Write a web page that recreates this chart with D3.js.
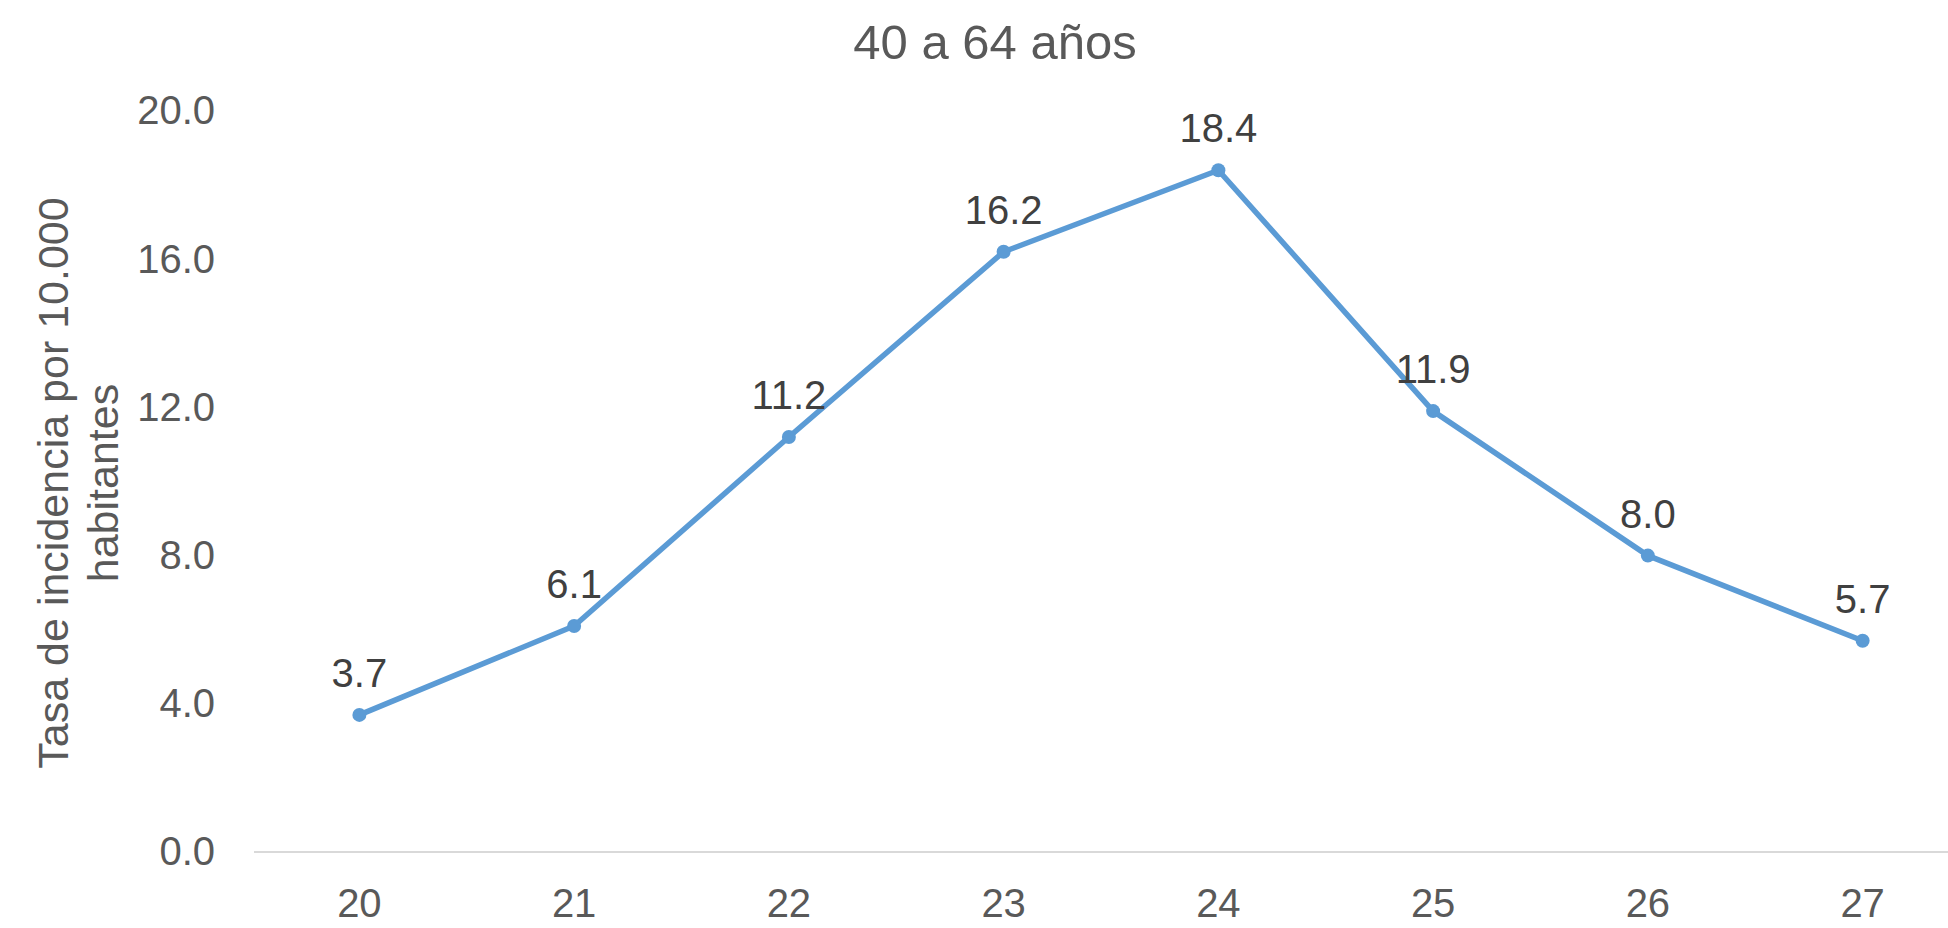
<!DOCTYPE html>
<html>
<head>
<meta charset="utf-8">
<script src="https://cdn.jsdelivr.net/npm/d3@7"></script>
<style>
  html, body { margin: 0; padding: 0; background: #fff; }
  svg { display: block; }
  text { font-family: "Liberation Sans", Arial, sans-serif; }
</style>
</head>
<body>
<svg id="chart" width="1948" height="928"></svg>
<script>
const categories = ["20", "21", "22", "23", "24", "25", "26", "27"];
const values = [3.7, 6.1, 11.2, 16.2, 18.4, 11.9, 8.0, 5.7];
const yTicks = [0, 4, 8, 12, 16, 20];
const chartTitle = "40 a 64 años";
const yTitleLines = ["Tasa de incidencia por 10.000", "habitantes"];

const svg = d3.select("#chart");
const W = 1948, H = 928;
const plot = { left: 252, right: 1970, top: 111, bottom: 852 };

const x = d3.scaleBand().domain(categories).range([plot.left, plot.right]).padding(0);
const y = d3.scaleLinear().domain([0, 20]).range([plot.bottom, plot.top]);
const cx = d => x(d) + x.bandwidth() / 2;

// Title
svg.append("text")
  .attr("x", 995).attr("y", 59)
  .attr("text-anchor", "middle")
  .attr("font-size", 49)
  .attr("fill", "#595959")
  .text(chartTitle);

// Y axis (labels only)
const yAxis = d3.axisLeft(y).tickValues(yTicks).tickFormat(d3.format(".1f")).tickSize(0).tickPadding(0);
const yg = svg.append("g").attr("transform", `translate(215,0)`).call(yAxis);
yg.select(".domain").remove();
yg.selectAll("text").attr("font-size", 40).attr("fill", "#595959")
  .attr("font-family", "'Liberation Sans', Arial, sans-serif");

// X axis baseline + labels
const xAxis = d3.axisBottom(x).tickSize(0).tickPadding(0);
const xg = svg.append("g").attr("transform", `translate(0,${plot.bottom})`).call(xAxis);
xg.select(".domain").remove();
xg.selectAll("text").attr("font-size", 40).attr("fill", "#595959")
  .attr("dy", null).attr("y", 65)
  .attr("font-family", "'Liberation Sans', Arial, sans-serif");

svg.append("line")
  .attr("x1", 254).attr("x2", W)
  .attr("y1", y(0)).attr("y2", y(0))
  .attr("stroke", "#d9d9d9").attr("stroke-width", 2);

// Y axis title
const yt = svg.append("text")
  .attr("transform", `translate(0,483) rotate(-90)`)
  .attr("text-anchor", "middle")
  .attr("font-size", 43)
  .attr("fill", "#595959");
yt.append("tspan").attr("x", 0).attr("y", 68).text(yTitleLines[0]);
yt.append("tspan").attr("x", 0).attr("y", 118).text(yTitleLines[1]);

// Line
const data = categories.map((c, i) => ({ c, v: values[i] }));
svg.append("path")
  .datum(data)
  .attr("fill", "none")
  .attr("stroke", "#5B9BD5")
  .attr("stroke-width", 5.5)
  .attr("stroke-linejoin", "round")
  .attr("d", d3.line().x(d => cx(d.c)).y(d => y(d.v)));

svg.selectAll("circle.pt")
  .data(data).enter().append("circle")
  .attr("class", "pt")
  .attr("cx", d => cx(d.c)).attr("cy", d => y(d.v))
  .attr("r", 7)
  .attr("fill", "#5B9BD5");

svg.selectAll("text.lbl")
  .data(data).enter().append("text")
  .attr("class", "lbl")
  .attr("x", d => cx(d.c)).attr("y", d => y(d.v) - 28)
  .attr("text-anchor", "middle")
  .attr("font-size", 40)
  .attr("fill", "#404040")
  .text(d => d.v.toFixed(1));
</script>
</body>
</html>
